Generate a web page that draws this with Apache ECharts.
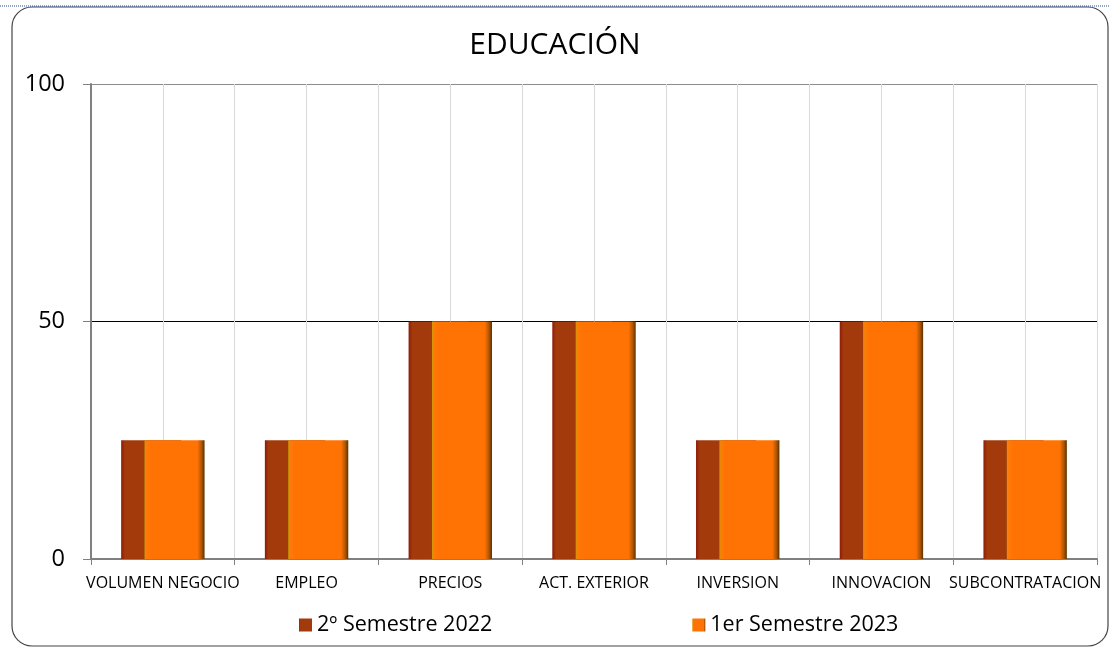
<!DOCTYPE html>
<html>
<head>
<meta charset="utf-8">
<title>EDUCACIÓN</title>
<script src="https://cdn.jsdelivr.net/npm/echarts@6/dist/echarts.min.js"></script>
<style>
  html, body { margin: 0; padding: 0; background: #fff; }
  #chart { width: 1110px; height: 648px; }
</style>
</head>
<body>
<div id="chart"></div>
<script>
  // datos
  var categorias = ['VOLUMEN NEGOCIO', 'EMPLEO', 'PRECIOS', 'ACT. EXTERIOR', 'INVERSION', 'INNOVACION', 'SUBCONTRATACION']
  var semestre2022 = [25, 25, 50, 50, 25, 50, 25]
  var semestre2023 = [25, 25, 50, 50, 25, 50, 25]
  var nombres = ['2º Semestre 2022', '1er Semestre 2023']
  var ticksY = [0, 50, 100]

  var fuente = '"Open Sans", "Noto Sans", sans-serif'

  // rejilla auxiliar: una linea en cada mitad de categoria
  var medias = []
  for (var i = 0; i < categorias.length * 2; i++) medias.push('')

  var chart = echarts.init(document.getElementById('chart'), null, { renderer: 'canvas' })

  chart.setOption({
    backgroundColor: '#fff',
    animation: false,
    textStyle: { fontFamily: fuente },
    title: {
      text: 'EDUCACIÓN',
      left: 'center',
      top: 25,
      textStyle: { fontSize: 30, fontWeight: 'normal', color: '#000', fontFamily: fuente }
    },
    graphic: [
      {
        type: 'line',
        shape: { x1: 0, y1: 6, x2: 1110, y2: 6 },
        style: { stroke: '#2F4F8F', lineWidth: 1, lineDash: [1, 1] }
      },
      {
        type: 'rect',
        shape: { x: 12, y: 7, width: 1096, height: 639, r: 20 },
        style: { fill: 'none', stroke: '#444', lineWidth: 1.2 },
        z: -1
      }
    ],
    legend: {
      data: nombres,
      left: 294,
      top: 609,
      itemGap: 200,
      itemWidth: 13,
      itemHeight: 13,
      icon: 'rect',
      textStyle: { fontSize: 21.5, color: '#000', fontFamily: fuente }
    },
    grid: { left: 91, right: 13, top: 84, bottom: 89 },
    xAxis: [
      {
        type: 'category',
        data: categorias,
        axisLine: { lineStyle: { color: '#808080', width: 2 } },
        axisTick: { show: true, length: 6, lineStyle: { color: '#808080' } },
        axisLabel: { fontSize: 16, color: '#000', margin: 16, interval: 0, fontFamily: fuente },
        splitLine: { show: true, lineStyle: { color: '#D9D9D9', width: 1 } }
      },
      {
        type: 'category',
        data: medias,
        position: 'bottom',
        axisLine: { show: false },
        axisTick: { show: false },
        axisLabel: { show: false },
        splitLine: { show: true, lineStyle: { color: '#D9D9D9', width: 1 } }
      }
    ],
    yAxis: {
      type: 'value',
      min: ticksY[0],
      max: ticksY[ticksY.length - 1],
      interval: 50,
      axisLine: { show: true, lineStyle: { color: '#808080', width: 2 } },
      axisTick: { show: true, length: 8, lineStyle: { color: '#808080' } },
      axisLabel: { fontSize: 23.5, color: '#000', margin: 26, fontFamily: fuente },
      splitLine: { show: true, lineStyle: { color: ['#808080', '#000', '#8C8C8C'], width: 1 } }
    },
    series: [
      {
        name: nombres[0],
        type: 'bar',
        xAxisIndex: 0,
        data: semestre2022,
        barWidth: 60,
        barGap: '-61%',
        itemStyle: {
          color: new echarts.graphic.LinearGradient(0, 0, 1, 0, [
            { offset: 0, color: '#8E1A0A' },
            { offset: 0.06, color: '#A23A0B' },
            { offset: 1, color: '#A23A0B' }
          ]),
          borderColor: '#C0200A',
          borderWidth: 0
        }
      },
      {
        name: nombres[1],
        type: 'bar',
        xAxisIndex: 0,
        data: semestre2023,
        barWidth: 60,
        itemStyle: {
          color: new echarts.graphic.LinearGradient(0, 0, 1, 0, [
            { offset: 0, color: '#C8A000' },
            { offset: 0.03, color: '#FF7A0A' },
            { offset: 0.1, color: '#FF7305' },
            { offset: 0.88, color: '#FF7305' },
            { offset: 0.95, color: '#B05500' },
            { offset: 1, color: '#553300' }
          ])
        }
      }
    ]
  })
</script>
</body>
</html>
